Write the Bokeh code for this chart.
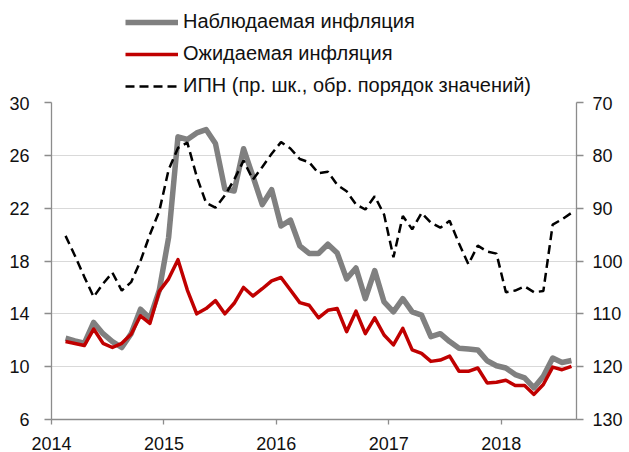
import pandas as pd
from bokeh.plotting import figure
from bokeh.layouts import column
from bokeh.models import Range1d, LinearAxis, FixedTicker, Legend, LegendItem
from bokeh.embed import file_html
from bokeh.resources import INLINE

# Monthly observations, Feb 2014 .. Aug 2018
months = pd.date_range("2014-02-01", periods=55, freq="MS")

observed = [12.15, 11.95, 11.77, 13.35, 12.5, 11.9, 11.45, 12.5, 14.35, 13.65,
            15.77, 19.77, 27.4, 27.2, 27.7, 27.95, 26.9, 23.45, 23.3, 26.5,
            24.4, 22.27, 23.4, 20.65, 21.1, 19.15, 18.57, 18.57, 19.27, 18.6,
            16.65, 17.47, 15.15, 17.27, 14.9, 14.15, 15.15, 14.15, 13.9, 12.27,
            12.5, 11.9, 11.4, 11.33, 11.27, 10.45, 10.07, 9.9, 9.4, 9.15,
            8.4, 9.27, 10.65, 10.32, 10.47]

expected = [11.9, 11.75, 11.6, 12.85, 11.77, 11.45, 11.77, 12.45, 13.85, 13.27,
            15.7, 16.65, 18.1, 15.8, 14.0, 14.4, 15.0, 14.0, 14.8, 16.0,
            15.35, 15.9, 16.5, 16.75, 15.8, 14.85, 14.65, 13.7, 14.27, 14.4,
            12.65, 14.2, 12.5, 13.7, 12.4, 11.65, 12.9, 11.27, 11.0, 10.4,
            10.5, 10.8, 9.65, 9.65, 9.9, 8.77, 8.82, 8.97, 8.57, 8.57,
            7.9, 8.65, 9.97, 9.77, 10.02]

ipn = [95.25, 99.0, 103.0, 106.8, 104.3, 102.2, 105.6, 104.0, 100.0, 95.0,
       90.6, 82.75, 78.6, 77.6, 84.0, 89.0, 89.9, 87.6, 84.6, 81.0,
       84.6, 82.2, 79.7, 77.5, 78.7, 80.7, 81.3, 83.4, 83.1, 85.6,
       86.8, 89.3, 90.25, 87.75, 91.2, 99.3, 91.5, 94.0, 90.9, 92.75,
       93.7, 92.4, 96.7, 100.6, 97.1, 98.2, 98.6, 105.9, 105.6, 104.8,
       105.9, 105.7, 93.1, 92.1, 90.9]

year_ticks = [2014, 2015, 2016, 2017, 2018]
left_ticks = [6, 10, 14, 18, 22, 26, 30]
right_ticks = [70, 80, 90, 100, 110, 120, 130]

labels = ["Наблюдаемая инфляция", "Ожидаемая инфляция",
          "ИПН (пр. шк., обр. порядок значений)"]

x = [d.year + (d.month - 0.5) / 12 for d in months]

FONT = "Liberation Sans"
FS = "18px"
LFS = "20px"
AX = "#8C8C8C"
GRAY, RED = "#808080", "#C00000"
DASH = "9 5"

# ---- main chart ----
p = figure(width=629, height=356, output_backend="svg", toolbar_location=None,
           x_range=Range1d(2014, 2018.67), y_range=Range1d(6, 30),
           min_border_left=51, min_border_right=53, min_border_top=6,
           min_border_bottom=30)
p.extra_y_ranges = {"ipn": Range1d(130, 70)}
p.outline_line_color = None

p.line(x, observed, line_color=GRAY, line_width=5.5, line_join="round")
p.line(x, expected, line_color=RED, line_width=3.5, line_join="round")
p.line(x, ipn, y_range_name="ipn", line_color="black", line_width=2.5,
       line_dash=DASH)

p.xgrid.visible = False
p.ygrid.ticker = FixedTicker(ticks=left_ticks)
p.ygrid.grid_line_color = "#D9D9D9"
p.ygrid.grid_line_width = 1.2


def style(ax, ticks):
    ax.ticker = FixedTicker(ticks=ticks)
    ax.axis_line_color = AX
    ax.axis_line_width = 1.3
    ax.major_tick_line_color = AX
    ax.major_tick_line_width = 1.3
    ax.minor_tick_line_color = None
    ax.major_tick_in = 0
    ax.major_label_text_font = FONT
    ax.major_label_text_font_size = FS
    ax.major_label_text_color = "#111111"


style(p.xaxis[0], year_ticks)
p.xaxis[0].major_tick_out = 5
p.xaxis[0].major_label_standoff = 12

style(p.yaxis[0], left_ticks)
p.yaxis[0].major_tick_out = 7
p.yaxis[0].major_label_standoff = 15

right = LinearAxis(y_range_name="ipn")
style(right, right_ticks)
right.major_tick_out = 7
right.major_label_standoff = 9
p.add_layout(right, "right")

# ---- legend strip above the chart ----
lg = figure(width=629, height=96, output_backend="svg", toolbar_location=None,
            x_range=Range1d(0, 1), y_range=Range1d(0, 1),
            x_axis_location=None, y_axis_location=None,
            min_border_left=0, min_border_right=0, min_border_top=0,
            min_border_bottom=0)
lg.grid.visible = False
lg.outline_line_color = None
nan = [float("nan")]
k_obs = lg.line(nan, nan, line_color=GRAY, line_width=5.5)
k_exp = lg.line(nan, nan, line_color=RED, line_width=3.5)
k_ipn = lg.line(nan, nan, line_color="black", line_width=2.5, line_dash=DASH)

legend = Legend(items=[LegendItem(label=labels[0], renderers=[k_obs]),
                       LegendItem(label=labels[1], renderers=[k_exp]),
                       LegendItem(label=labels[2], renderers=[k_ipn])],
                location=(74, -1), orientation="vertical",
                glyph_width=53, glyph_height=20, label_height=20,
                label_standoff=5, spacing=9, padding=0, margin=0,
                border_line_alpha=0, background_fill_alpha=0,
                label_text_font=FONT, label_text_font_size=LFS,
                label_text_color="#111111")
lg.add_layout(legend, "center")

layout = column(lg, p, spacing=0)
open("out.html", "w").write(file_html(layout, INLINE))
